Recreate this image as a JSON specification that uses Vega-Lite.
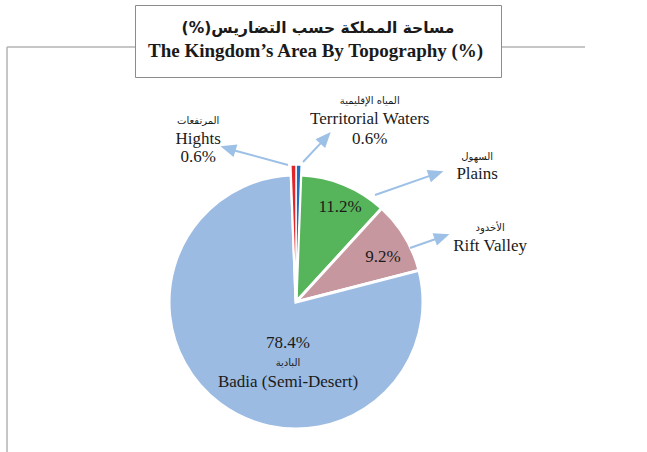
{
  "$schema": "https://vega.github.io/schema/vega-lite/v6.json",
  "autosize": "none",
  "width": 578,
  "height": 510,
  "padding": {"left": 7, "top": 47, "right": 62, "bottom": 0},
  "view": {"stroke": "#b4b4b4", "strokeWidth": 1.5, "strokeDash": [578, 1088, 510, 0]},
  "config": {"text": {"font": "Liberation Serif", "fontSize": 17, "color": "#1a1a1a"}},
  "data": {"values": [
    {"name": "Territorial Waters", "ar": "المياه الإقليمية", "share": 0.006, "rank": 1},
    {"name": "Plains", "ar": "السهول", "share": 0.112, "rank": 2},
    {"name": "Rift Valley", "ar": "الأخدود", "share": 0.092, "rank": 3},
    {"name": "Badia (Semi-Desert)", "ar": "البادية", "share": 0.784, "rank": 4},
    {"name": "Hights", "ar": "المرتفعات", "share": 0.006, "rank": 5}
  ]},
  "layer": [
    {
      "mark": {"type": "arc", "outerRadius": 127, "stroke": "white", "strokeWidth": 3},
      "encoding": {
        "theta": {"field": "share", "type": "quantitative", "stack": true},
        "order": {"field": "rank", "type": "quantitative"},
        "color": {"field": "name", "type": "nominal", "legend": null,
          "scale": {"domain": ["Territorial Waters", "Plains", "Rift Valley", "Badia (Semi-Desert)", "Hights"],
                    "range": ["#1f6fc0", "#56b55b", "#c6979e", "#9bbbe2", "#e2252b"]}}
      }
    },
    {
      "mark": {"type": "arc", "outerRadius": 137, "stroke": "white", "strokeWidth": 1.5},
      "encoding": {
        "theta": {"field": "share", "type": "quantitative", "stack": true},
        "order": {"field": "rank", "type": "quantitative"},
        "color": {"field": "name", "type": "nominal", "legend": null},
        "opacity": {"condition": {"test": "datum.rank === 1 || datum.rank === 5", "value": 1}, "value": 0}
      }
    },
    {
      "transform": [{"filter": "datum.rank !== 4"}],
      "mark": {"type": "point", "filled": true, "size": 4, "opacity": 1, "fill": "#9dc0e6", "stroke": "#9dc0e6", "strokeWidth": 2},
      "encoding": {
        "shape": {"field": "name", "type": "nominal", "legend": null,
          "scale": {"domain": ["Hights", "Territorial Waters", "Plains", "Rift Valley"],
                    "range": [
                      "M-8,-137L-61.5,-151.5M-73,-155L-60,-156.3L-63,-146.7Z",
                      "M7,-140L25,-159.1M33,-168L28.7,-155.8L21.3,-162.4Z",
                      "M79,-107L133.7,-126.1M145,-130L135.3,-121.4L132.1,-130.8Z",
                      "M114,-54L139.7,-63M151,-67L141.4,-58.3L138,-67.7Z"
                    ]}}
      }
    },
    {
      "data": {"values": [{"t": "The Kingdom’s Area By Topography (%)"}]},
      "mark": {"type": "point", "opacity": 0, "size": 0},
      "encoding": {
        "strokeDash": {"field": "t", "type": "nominal",
          "legend": {
            "title": "مساحة المملكة حسب التضاريس(%)\u200f",
            "titleOrient": "top", "titleAnchor": "middle",
            "titleFont": "DejaVu Sans", "titleFontSize": 15.5, "titleFontWeight": "bold", "titleColor": "#1a1a1a", "titleLimit": 800, "titlePadding": 5,
            "labelFont": "Liberation Serif", "labelFontSize": 19, "labelFontWeight": "bold", "labelColor": "#1a1a1a", "labelLimit": 800, "labelOffset": -22,
            "symbolOpacity": 0, "symbolStrokeWidth": 0, "symbolSize": 0, "symbolType": "circle",
            "orient": "none", "legendX": 128, "legendY": -42,
            "padding": 16, "strokeColor": "#8c8c8c", "fillColor": "white"
          }}
      }
    },
    {
      "mark": {"type": "text", "radius": 190, "thetaOffset": -0.522, "dy": -18, "font": "DejaVu Sans", "fontSize": 10},
      "encoding": {"theta": {"field": "share", "type": "quantitative", "stack": true}, "order": {"field": "rank", "type": "quantitative"},
        "text": {"condition": {"test": "datum.rank === 5", "field": "ar", "type": "nominal"}, "value": ""}}
    },
    {
      "mark": {"type": "text", "radius": 190, "thetaOffset": -0.522, "dy": 0},
      "encoding": {"theta": {"field": "share", "type": "quantitative", "stack": true}, "order": {"field": "rank", "type": "quantitative"},
        "text": {"condition": {"test": "datum.rank === 5", "field": "name", "type": "nominal"}, "value": ""}}
    },
    {
      "mark": {"type": "text", "radius": 190, "thetaOffset": -0.522, "dy": 18},
      "encoding": {"theta": {"field": "share", "type": "quantitative", "stack": true}, "order": {"field": "rank", "type": "quantitative"},
        "text": {"condition": {"test": "datum.rank === 5", "field": "share", "type": "quantitative", "format": ".1%"}, "value": ""}}
    },
    {
      "mark": {"type": "text", "radius": 197, "thetaOffset": 0.365, "dy": -18, "font": "DejaVu Sans", "fontSize": 10},
      "encoding": {"theta": {"field": "share", "type": "quantitative", "stack": true}, "order": {"field": "rank", "type": "quantitative"},
        "text": {"condition": {"test": "datum.rank === 1", "field": "ar", "type": "nominal"}, "value": ""}}
    },
    {
      "mark": {"type": "text", "radius": 197, "thetaOffset": 0.365, "dy": 0},
      "encoding": {"theta": {"field": "share", "type": "quantitative", "stack": true}, "order": {"field": "rank", "type": "quantitative"},
        "text": {"condition": {"test": "datum.rank === 1", "field": "name", "type": "nominal"}, "value": ""}}
    },
    {
      "mark": {"type": "text", "radius": 197, "thetaOffset": 0.365, "dy": 20},
      "encoding": {"theta": {"field": "share", "type": "quantitative", "stack": true}, "order": {"field": "rank", "type": "quantitative"},
        "text": {"condition": {"test": "datum.rank === 1", "field": "share", "type": "quantitative", "format": ".1%"}, "value": ""}}
    },
    {
      "mark": {"type": "text", "radius": 222, "thetaOffset": 0.565, "dy": -17, "font": "DejaVu Sans", "fontSize": 10},
      "encoding": {"theta": {"field": "share", "type": "quantitative", "stack": true}, "order": {"field": "rank", "type": "quantitative"},
        "text": {"condition": {"test": "datum.rank === 2", "field": "ar", "type": "nominal"}, "value": ""}}
    },
    {
      "mark": {"type": "text", "radius": 222, "thetaOffset": 0.565, "dy": 0},
      "encoding": {"theta": {"field": "share", "type": "quantitative", "stack": true}, "order": {"field": "rank", "type": "quantitative"},
        "text": {"condition": {"test": "datum.rank === 2", "field": "name", "type": "nominal"}, "value": ""}}
    },
    {
      "mark": {"type": "text", "radius": 202, "thetaOffset": 0.259, "dy": -18, "font": "DejaVu Sans", "fontSize": 10},
      "encoding": {"theta": {"field": "share", "type": "quantitative", "stack": true}, "order": {"field": "rank", "type": "quantitative"},
        "text": {"condition": {"test": "datum.rank === 3", "field": "ar", "type": "nominal"}, "value": ""}}
    },
    {
      "mark": {"type": "text", "radius": 202, "thetaOffset": 0.259, "dy": 0},
      "encoding": {"theta": {"field": "share", "type": "quantitative", "stack": true}, "order": {"field": "rank", "type": "quantitative"},
        "text": {"condition": {"test": "datum.rank === 3", "field": "name", "type": "nominal"}, "value": ""}}
    },
    {
      "mark": {"type": "text", "radius": 105, "thetaOffset": 0.044},
      "encoding": {"theta": {"field": "share", "type": "quantitative", "stack": true}, "order": {"field": "rank", "type": "quantitative"},
        "text": {"condition": {"test": "datum.rank === 2", "field": "share", "type": "quantitative", "format": ".1%"}, "value": ""}}
    },
    {
      "mark": {"type": "text", "radius": 98, "thetaOffset": 0.063},
      "encoding": {"theta": {"field": "share", "type": "quantitative", "stack": true}, "order": {"field": "rank", "type": "quantitative"},
        "text": {"condition": {"test": "datum.rank === 3", "field": "share", "type": "quantitative", "format": ".1%"}, "value": ""}}
    },
    {
      "mark": {"type": "text", "radius": 61.5, "thetaOffset": -0.51, "dy": -20},
      "encoding": {"theta": {"field": "share", "type": "quantitative", "stack": true}, "order": {"field": "rank", "type": "quantitative"},
        "text": {"condition": {"test": "datum.rank === 4", "field": "share", "type": "quantitative", "format": ".1%"}, "value": ""}}
    },
    {
      "mark": {"type": "text", "radius": 61.5, "thetaOffset": -0.51, "dy": 0, "font": "DejaVu Sans", "fontSize": 10},
      "encoding": {"theta": {"field": "share", "type": "quantitative", "stack": true}, "order": {"field": "rank", "type": "quantitative"},
        "text": {"condition": {"test": "datum.rank === 4", "field": "ar", "type": "nominal"}, "value": ""}}
    },
    {
      "mark": {"type": "text", "radius": 61.5, "thetaOffset": -0.51, "dy": 19},
      "encoding": {"theta": {"field": "share", "type": "quantitative", "stack": true}, "order": {"field": "rank", "type": "quantitative"},
        "text": {"condition": {"test": "datum.rank === 4", "field": "name", "type": "nominal"}, "value": ""}}
    }
  ]
}
